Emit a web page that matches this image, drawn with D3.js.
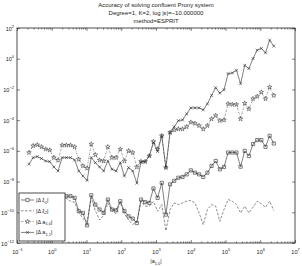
<!DOCTYPE html>
<html>
<head>
<meta charset="utf-8">
<script src="https://cdn.jsdelivr.net/npm/d3@7"></script>
<style>
body { margin: 0; background: #fff; }
text { font-family: "Liberation Sans", Arial, sans-serif; fill: #222; }
</style>
</head>
<body>
<div id="chart"></div>
<script>
// x positions, log10 |a_1,0|
let logA = [-0.655, -0.536, -0.416, -0.297, -0.177, -0.058, 0.061, 0.181, 0.300, 0.420,
            0.539, 0.658, 0.778, 0.897, 1.017, 1.136, 1.255, 1.375, 1.494, 1.614,
            1.733, 1.852, 1.972, 2.091, 2.211, 2.330, 2.449, 2.569, 2.688, 2.808,
            2.927, 3.046, 3.166, 3.285, 3.405, 3.524, 3.643, 3.763, 3.882, 4.002,
            4.121, 4.240, 4.360, 4.479, 4.599, 4.718, 4.837, 4.957, 5.076, 5.196,
            5.315, 5.434, 5.554, 5.673, 5.793, 5.912, 6.031, 6.151, 6.270, 6.390]

// errors, log10
let xi1 = [-9.1, -9.0, -8.95, -9.0, -9.1, -9.2, -9.6, -9.4, -8.95, -8.95,
           -8.95, -9.06, -9.93, -10.04, -10.85, -8.89, -9.50, -9.82, -10.04, -9.17,
           -9.82, -9.87, -9.28, -9.93, -10.26, -10.41, -10.70, -9.17, -9.34, -9.39,
           -8.45, -9.06, -8.08, -10.15, -8.18, -7.95, -7.75, -7.70, -7.53, -7.27,
           -7.42, -7.53, -7.70, -7.42, -6.98, -6.66, -7.20, -7.05, -6.11, -6.11,
           -6.11, -7.03, -6.00, -6.33, -5.56, -5.30, -5.30, -5.74, -5.02, -5.52]

let xi2 = [-9.2, -9.1, -9.0, -9.1, -9.3, -9.4, -9.8, -9.6, -9.06, -9.1,
           -9.28, -9.35, -10.0, -10.4, -10.6, -9.06, -9.9, -10.5, -10.2, -9.4,
           -9.9, -10.1, -9.35, -10.1, -10.5, -10.8, -10.6, -9.3, -9.6, -9.6,
           -9.3, -9.93, -9.5, -11.2, -9.82, -9.39, -9.50, -9.39, -9.28, -9.23,
           -9.39, -10.04, -10.81, -9.82, -9.50, -9.61, -10.59, -9.82, -9.17, -9.28,
           -9.50, -10.04, -9.61, -10.04, -9.67, -9.28, -9.45, -9.67, -9.28, -9.89]

let a10 = [-6.11, -5.67, -5.61, -5.74, -5.89, -5.95, -6.44, -6.61, -5.63, -5.63,
           -5.63, -5.74, -6.55, -6.98, -7.13, -5.56, -6.26, -6.61, -6.66, -5.74,
           -6.44, -6.44, -5.89, -6.66, -6.00, -6.11, -7.05, -6.70, -6.70, -6.33,
           -5.39, -5.89, -5.02, -7.09, -4.80, -4.64, -4.58, -4.58, -4.43, -4.14,
           -4.21, -4.36, -4.58, -4.36, -3.92, -3.70, -4.03, -3.99, -2.94, -2.98,
           -2.98, -3.92, -2.90, -3.27, -2.61, -2.46, -2.18, -2.61, -1.85, -2.39]

let a11 = [-6.87, -6.44, -6.37, -6.50, -6.66, -6.70, -7.05, -7.31, -6.44, -6.44,
           -6.44, -6.59, -7.31, -7.64, -7.92, -6.44, -6.77, -7.05, -7.31, -6.66,
           -7.20, -7.31, -6.77, -7.64, -7.09, -7.31, -8.10, -6.72, -6.70, -6.33,
           -5.46, -6.04, -5.02, -7.09, -4.80, -4.43, -4.03, -3.99, -3.59, -3.20,
           -3.20, -3.20, -3.33, -2.94, -2.39, -1.89, -2.24, -2.02, -0.97, -0.93,
           -0.75, -1.63, -0.43, -0.64, 0.01, 0.56, 0.67, 0.38, 1.21, 0.82]

let titleLines = ["Accuracy of solving confluent Prony system",
                  "Degree=1, K=2, log |\u03b5|=\u221210.000000",
                  "method=ESPRIT"]
let xTickExp = [-1, 0, 1, 2, 3, 4, 5, 6, 7]
let yTickExp = [2, 0, -2, -4, -6, -8, -10, -12]

let W = 302, H = 266
let pLeft = 17, pRight = 295, pTop = 28, pBottom = 243
let ink = "#2a2a2a"

var svg = d3.select("#chart")
    .append("svg")
        .attr("width", W)
        .attr("height", H)

let x = d3.scaleLog().domain([1e-1, 1e7]).range([pLeft, pRight])
let y = d3.scaleLog().domain([1e-12, 1e2]).range([pBottom, pTop])

// minor ticks 2..9 per decade
let minor = []
xTickExp.slice(0, -1).forEach(e => {
    for (let k = 2; k < 10; k++) minor.push(k * Math.pow(10, e))
})
let majorX = xTickExp.map(e => Math.pow(10, e))
let majorY = yTickExp.map(e => Math.pow(10, e))

function tickLayer(axis, tr) {
    let g = svg.append("g")
        .attr("transform", tr)
        .call(axis)
    g.select(".domain").remove()
    g.selectAll("line").attr("stroke", "#333").attr("stroke-width", 0.6)
    g.selectAll("text").remove()
    return g
}

tickLayer(d3.axisBottom(x).tickValues(minor).tickSize(-1.6), `translate(0,${pBottom})`)
tickLayer(d3.axisTop(x).tickValues(minor).tickSize(-1.6), `translate(0,${pTop})`)
let xb = tickLayer(d3.axisBottom(x).tickValues(majorX).tickSize(-3), `translate(0,${pBottom})`)
tickLayer(d3.axisTop(x).tickValues(majorX).tickSize(-3), `translate(0,${pTop})`)
let yl = tickLayer(d3.axisLeft(y).tickValues(majorY).tickSize(-3), `translate(${pLeft},0)`)
tickLayer(d3.axisRight(y).tickValues(majorY).tickSize(-3), `translate(${pRight},0)`)

function powLabel(sel, e) {
    sel.append("tspan").text("10")
    sel.append("tspan")
        .attr("dy", -3)
        .style("font-size", "4px")
        .text(e < 0 ? "\u2212" + (-e) : e)
}

xb.selectAll(".tick").each(function(d, i) {
    let t = d3.select(this).append("text")
        .attr("y", 11)
        .attr("text-anchor", "middle")
        .style("font-size", "5.5px")
    powLabel(t, xTickExp[i])
})

yl.selectAll(".tick").each(function(d, i) {
    let t = d3.select(this).append("text")
        .attr("x", -3)
        .attr("y", 2)
        .attr("text-anchor", "end")
        .style("font-size", "5.5px")
    powLabel(t, yTickExp[i])
})

svg.append("rect")
    .attr("x", pLeft).attr("y", pTop)
    .attr("width", pRight - pLeft).attr("height", pBottom - pTop)
    .attr("fill", "none")
    .attr("stroke", "#222")
    .attr("stroke-width", 0.8)

// title
svg.append("g").selectAll("text")
    .data(titleLines)
    .enter()
    .append("text")
        .attr("x", 156)
        .attr("y", (d, i) => 7 + i * 8)
        .attr("text-anchor", "middle")
        .style("font-size", "6px")
        .text(d => d)

let xl = svg.append("text")
    .attr("x", 156)
    .attr("y", 263)
    .attr("text-anchor", "middle")
    .style("font-size", "5.5px")
xl.append("tspan").text("|a")
xl.append("tspan").attr("dy", 1.5).style("font-size", "4px").text("1,0")
xl.append("tspan").attr("dy", -1.5).text("|")

let xSymbol = {
    draw: function(ctx, size) {
        let r = Math.sqrt(size) / 2
        ctx.moveTo(-r, -r); ctx.lineTo(r, r)
        ctx.moveTo(-r, r); ctx.lineTo(r, -r)
    }
}

let series = [
    {name: "\u03be", sub: "1", vals: xi1, dash: null, sym: d3.symbolSquare, size: 10, w: 0.6},
    {name: "\u03be", sub: "2", vals: xi2, dash: "2.5,1.5", sym: null, size: 0, w: 0.55},
    {name: "a", sub: "1,0", vals: a10, dash: "1.6,1,0.5,1", sym: d3.symbolStar, size: 6.5, w: 0.5},
    {name: "a", sub: "1,1", vals: a11, dash: null, sym: xSymbol, size: 8, w: 0.6}
]

let line = d3.line()
    .x(d => x(Math.pow(10, d[0])))
    .y(d => y(Math.pow(10, d[1])))

let body = svg.append("g")

series.forEach(s => {
    let pts = logA.map((a, i) => [a, s.vals[i]])
    body.append("path")
        .datum(pts)
        .attr("d", line)
        .attr("fill", "none")
        .attr("stroke", ink)
        .attr("stroke-width", s.w)
        .attr("stroke-dasharray", s.dash)
    if (s.sym) {
        body.selectAll(null)
            .data(pts)
            .enter()
            .append("path")
                .attr("transform", d => `translate(${x(Math.pow(10, d[0]))},${y(Math.pow(10, d[1]))})`)
                .attr("d", d3.symbol().type(s.sym).size(s.size))
                .attr("fill", "none")
                .attr("stroke", ink)
                .attr("stroke-width", s.w)
    }
})

// legend
let leg = svg.append("g")
leg.append("rect")
    .attr("x", 19).attr("y", 193)
    .attr("width", 46).attr("height", 48)
    .attr("fill", "#fff")
    .attr("stroke", "#222")
    .attr("stroke-width", 0.8)

series.forEach((s, i) => {
    let ly = 200 + i * 10.8
    leg.append("line")
        .attr("x1", 21).attr("x2", 34)
        .attr("y1", ly).attr("y2", ly)
        .attr("stroke", ink)
        .attr("stroke-width", s.w)
        .attr("stroke-dasharray", s.dash)
    if (s.sym) {
        leg.append("path")
            .attr("transform", `translate(27.5,${ly})`)
            .attr("d", d3.symbol().type(s.sym).size(s.size))
            .attr("fill", "#fff")
            .attr("stroke", ink)
            .attr("stroke-width", s.w)
    }
    let t = leg.append("text")
        .attr("x", 36)
        .attr("y", ly + 2)
        .style("font-size", "5.5px")
    t.append("tspan").text("|\u0394 " + s.name)
    t.append("tspan").attr("dy", 1.5).style("font-size", "4px").text(s.sub)
    t.append("tspan").attr("dy", -1.5).text("|")
})
</script>
</body>
</html>
